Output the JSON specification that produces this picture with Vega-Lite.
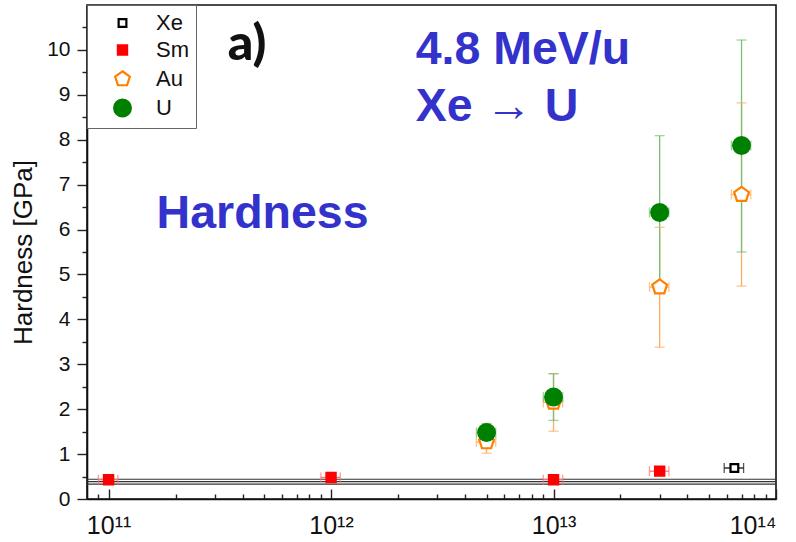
{
  "$schema": "https://vega.github.io/schema/vega-lite/v6.json",
  "width": 689,
  "height": 494,
  "autosize": "none",
  "padding": {"left": 87, "top": 5, "right": 20, "bottom": 43},
  "background": "white",
  "config": {
    "font": "Liberation Sans",
    "view": {"stroke": "#111111", "strokeWidth": 1.6},
    "axis": {"grid": false, "domainColor": "#111111", "domainWidth": 1.6, "tickColor": "#222222", "tickWidth": 1.4, "labelColor": "#111111", "titleColor": "#111111", "labelFont": "Liberation Sans", "titleFont": "Liberation Sans"},
    "legend": {
      "padding": 7,
      "strokeColor": "#666666",
      "fillColor": "white",
      "labelFont": "Liberation Sans",
      "labelColor": "#111111",
      "symbolStrokeWidth": 2.2
    }
  },
  "datasets": {
    "hardness": [
      {"ion": "Xe", "fluence": 6.5e13, "h": 0.69, "xlo": 5.85e13, "xhi": 7.15e13},
      {"ion": "Sm", "fluence": 1e11, "h": 0.43, "xlo": 9e10, "xhi": 1.1e11},
      {"ion": "Sm", "fluence": 1e12, "h": 0.48, "xlo": 9e11, "xhi": 1.1e12},
      {"ion": "Sm", "fluence": 1e13, "h": 0.43, "xlo": 9e12, "xhi": 1.1e13},
      {"ion": "Sm", "fluence": 3e13, "h": 0.62, "xlo": 2.7e13, "xhi": 3.3e13},
      {"ion": "Au", "fluence": 5e12, "h": 1.27, "xlo": 4.5e12, "xhi": 5.5e12, "ylo": 1.02, "yhi": 1.52},
      {"ion": "Au", "fluence": 1e13, "h": 2.15, "xlo": 9e12, "xhi": 1.1e13, "ylo": 1.51, "yhi": 2.79},
      {"ion": "Au", "fluence": 3e13, "h": 4.72, "xlo": 2.7e13, "xhi": 3.3e13, "ylo": 3.38, "yhi": 6.05},
      {"ion": "Au", "fluence": 7e13, "h": 6.78, "xlo": 6.3e13, "xhi": 7.7e13, "ylo": 4.74, "yhi": 8.82},
      {"ion": "U", "fluence": 5e12, "h": 1.48, "xlo": 4.5e12, "xhi": 5.5e12, "ylo": 1.28, "yhi": 1.68},
      {"ion": "U", "fluence": 1e13, "h": 2.27, "xlo": 9e12, "xhi": 1.1e13, "ylo": 1.75, "yhi": 2.79},
      {"ion": "U", "fluence": 3e13, "h": 6.38, "xlo": 2.7e13, "xhi": 3.3e13, "ylo": 4.67, "yhi": 8.09},
      {"ion": "U", "fluence": 7e13, "h": 7.87, "xlo": 6.3e13, "xhi": 7.7e13, "ylo": 5.5, "yhi": 10.22}
    ]
  },
  "resolve": {"axis": {"x": "independent", "y": "independent"}},
  "layer": [
    {
      "data": {"values": [{"level": 0.33}, {"level": 0.385}, {"level": 0.44}]},
      "mark": {"type": "rule", "color": "#333333", "strokeWidth": 1.2},
      "encoding": {
        "y": {"field": "level", "type": "quantitative", "scale": {"domain": [0, 11], "nice": false}, "axis": null}
      }
    },
    {
      "data": {"name": "hardness"},
      "transform": [{"filter": "datum.ylo != null"}],
      "mark": {"type": "rule", "strokeWidth": 1.3},
      "encoding": {
        "x": {"field": "fluence", "type": "quantitative", "scale": {"type": "log", "domain": [8e10, 1e14], "nice": false},
          "axis": {"orient": "bottom", "values": [9e10, 2e11, 3e11, 4e11, 5e11, 6e11, 7e11, 8e11, 9e11, 2e12, 3e12, 4e12, 5e12, 6e12, 7e12, 8e12, 9e12, 2e13, 3e13, 4e13, 5e13, 6e13, 7e13, 8e13, 9e13], "labels": false, "domain": false, "tickSize": -5, "title": null}},
        "y": {"field": "ylo", "type": "quantitative", "scale": {"domain": [0, 11], "nice": false},
          "axis": {"orient": "left", "values": [0.5, 1.5, 2.5, 3.5, 4.5, 5.5, 6.5, 7.5, 8.5, 9.5, 10.5], "labels": false, "domain": false, "tickSize": 5, "title": null}},
        "y2": {"field": "yhi"},
        "color": {"field": "ion", "type": "nominal", "legend": null,
          "scale": {"domain": ["U", "Au", "Sm", "Xe"], "range": ["#74c074", "#ffab66", "#ff7272", "#111111"]}}
      }
    },
    {
      "data": {"name": "hardness"},
      "transform": [{"filter": "datum.ylo != null"}],
      "mark": {"type": "tick", "orient": "horizontal", "size": 10, "thickness": 1.3},
      "encoding": {
        "x": {"field": "fluence", "type": "quantitative", "scale": {"type": "log", "domain": [8e10, 1e14], "nice": false}, "axis": null},
        "y": {"field": "ylo", "type": "quantitative", "scale": {"domain": [0, 11], "nice": false}, "axis": null},
        "color": {"field": "ion", "type": "nominal", "legend": null}
      }
    },
    {
      "data": {"name": "hardness"},
      "transform": [{"filter": "datum.yhi != null"}],
      "mark": {"type": "tick", "orient": "horizontal", "size": 10, "thickness": 1.3},
      "encoding": {
        "x": {"field": "fluence", "type": "quantitative", "scale": {"type": "log", "domain": [8e10, 1e14], "nice": false}, "axis": null},
        "y": {"field": "yhi", "type": "quantitative", "scale": {"domain": [0, 11], "nice": false}, "axis": null},
        "color": {"field": "ion", "type": "nominal", "legend": null}
      }
    },
    {
      "data": {"name": "hardness"},
      "mark": {"type": "rule", "strokeWidth": 1.3},
      "encoding": {
        "x": {"field": "xlo", "type": "quantitative", "scale": {"type": "log", "domain": [8e10, 1e14], "nice": false}, "axis": null},
        "x2": {"field": "xhi"},
        "y": {"field": "h", "type": "quantitative", "scale": {"domain": [0, 11], "nice": false}, "axis": null},
        "color": {"field": "ion", "type": "nominal", "legend": null}
      }
    },
    {
      "data": {"name": "hardness"},
      "mark": {"type": "tick", "orient": "vertical", "size": 10, "thickness": 1.3},
      "encoding": {
        "x": {"field": "xlo", "type": "quantitative", "scale": {"type": "log", "domain": [8e10, 1e14], "nice": false}, "axis": null},
        "y": {"field": "h", "type": "quantitative", "scale": {"domain": [0, 11], "nice": false}, "axis": null},
        "color": {"field": "ion", "type": "nominal", "legend": null}
      }
    },
    {
      "data": {"name": "hardness"},
      "mark": {"type": "tick", "orient": "vertical", "size": 10, "thickness": 1.3},
      "encoding": {
        "x": {"field": "xhi", "type": "quantitative", "scale": {"type": "log", "domain": [8e10, 1e14], "nice": false}, "axis": null},
        "y": {"field": "h", "type": "quantitative", "scale": {"domain": [0, 11], "nice": false}, "axis": null},
        "color": {"field": "ion", "type": "nominal", "legend": null}
      }
    },
    {
      "data": {"name": "hardness"},
      "mark": {"type": "point", "strokeWidth": 2.2, "opacity": 1},
      "encoding": {
        "x": {"field": "fluence", "type": "quantitative", "scale": {"type": "log", "domain": [8e10, 1e14], "nice": false},
          "axis": {"orient": "bottom", "values": [1e11, 1e12, 1e13, 1e14], "tickSize": -10, "labelPadding": 24, "labelFontSize": 25, "title": null,
            "labelExpr": "datum.value < 5e11 ? '10¹¹' : datum.value < 5e12 ? '10¹²' : datum.value < 5e13 ? '10¹³' : '10¹⁴'"}},
        "y": {"field": "h", "type": "quantitative", "scale": {"domain": [0, 11], "nice": false},
          "axis": {"orient": "left", "values": [0, 1, 2, 3, 4, 5, 6, 7, 8, 9, 10], "tickSize": 10, "labelPadding": 7, "labelFontSize": 21, "title": "Hardness [GPa]", "titleFontSize": 26, "titleFontWeight": "normal", "titlePadding": 10}},
        "shape": {"field": "ion", "type": "nominal",
          "legend": {"orient": "top-left", "offset": 0, "title": null, "labelFontSize": 22, "rowPadding": 5, "symbolOffset": 17.5, "labelOffset": 22.5},
          "scale": {"domain": ["Xe", "Sm", "Au", "U"], "range": ["square", "square", "M0,-1L0.951,-0.309L0.588,0.809L-0.588,0.809L-0.951,-0.309Z", "circle"]}},
        "stroke": {"field": "ion", "type": "nominal", "title": null,
          "scale": {"domain": ["Xe", "Sm", "Au", "U"], "range": ["#000000", "#ff0000", "#ff7f00", "#008000"]}},
        "fill": {"field": "ion", "type": "nominal", "title": null,
          "scale": {"domain": ["Xe", "Sm", "Au", "U"], "range": ["#ffffff", "#ff0000", "#ffffff", "#008000"]}},
        "size": {"field": "ion", "type": "nominal", "title": null,
          "scale": {"type": "ordinal", "domain": ["Xe", "Sm", "Au", "U"], "range": [60, 85, 240, 280]}}
      }
    },
    {
      "data": {"values": [{"t": "a)"}]},
      "mark": {"type": "text", "align": "left", "baseline": "alphabetic", "font": "Lato", "fontWeight": 900, "fontSize": 50, "color": "#111111"},
      "encoding": {
        "x": {"datum": 3.43e11, "type": "quantitative", "scale": {"type": "log", "domain": [8e10, 1e14], "nice": false}, "axis": null},
        "y": {"datum": 9.78, "type": "quantitative", "scale": {"domain": [0, 11], "nice": false}, "axis": null},
        "text": {"field": "t"}
      }
    },
    {
      "data": {"values": [{"t": "4.8 MeV/u"}]},
      "mark": {"type": "text", "align": "left", "baseline": "alphabetic", "fontWeight": "bold", "fontSize": 46.5, "color": "#3333cc"},
      "encoding": {
        "x": {"datum": 2.4e12, "type": "quantitative", "scale": {"type": "log", "domain": [8e10, 1e14], "nice": false}, "axis": null},
        "y": {"datum": 9.69, "type": "quantitative", "scale": {"domain": [0, 11], "nice": false}, "axis": null},
        "text": {"field": "t"}
      }
    },
    {
      "data": {"values": [{"t": "Xe → U"}]},
      "mark": {"type": "text", "align": "left", "baseline": "alphabetic", "fontWeight": "bold", "fontSize": 46.5, "color": "#3333cc"},
      "encoding": {
        "x": {"datum": 2.4e12, "type": "quantitative", "scale": {"type": "log", "domain": [8e10, 1e14], "nice": false}, "axis": null},
        "y": {"datum": 8.42, "type": "quantitative", "scale": {"domain": [0, 11], "nice": false}, "axis": null},
        "text": {"field": "t"}
      }
    },
    {
      "data": {"values": [{"t": "Hardness"}]},
      "mark": {"type": "text", "align": "left", "baseline": "alphabetic", "fontWeight": "bold", "fontSize": 46.5, "color": "#3333cc"},
      "encoding": {
        "x": {"datum": 1.644e11, "type": "quantitative", "scale": {"type": "log", "domain": [8e10, 1e14], "nice": false}, "axis": null},
        "y": {"datum": 6.04, "type": "quantitative", "scale": {"domain": [0, 11], "nice": false}, "axis": null},
        "text": {"field": "t"}
      }
    }
  ]
}
